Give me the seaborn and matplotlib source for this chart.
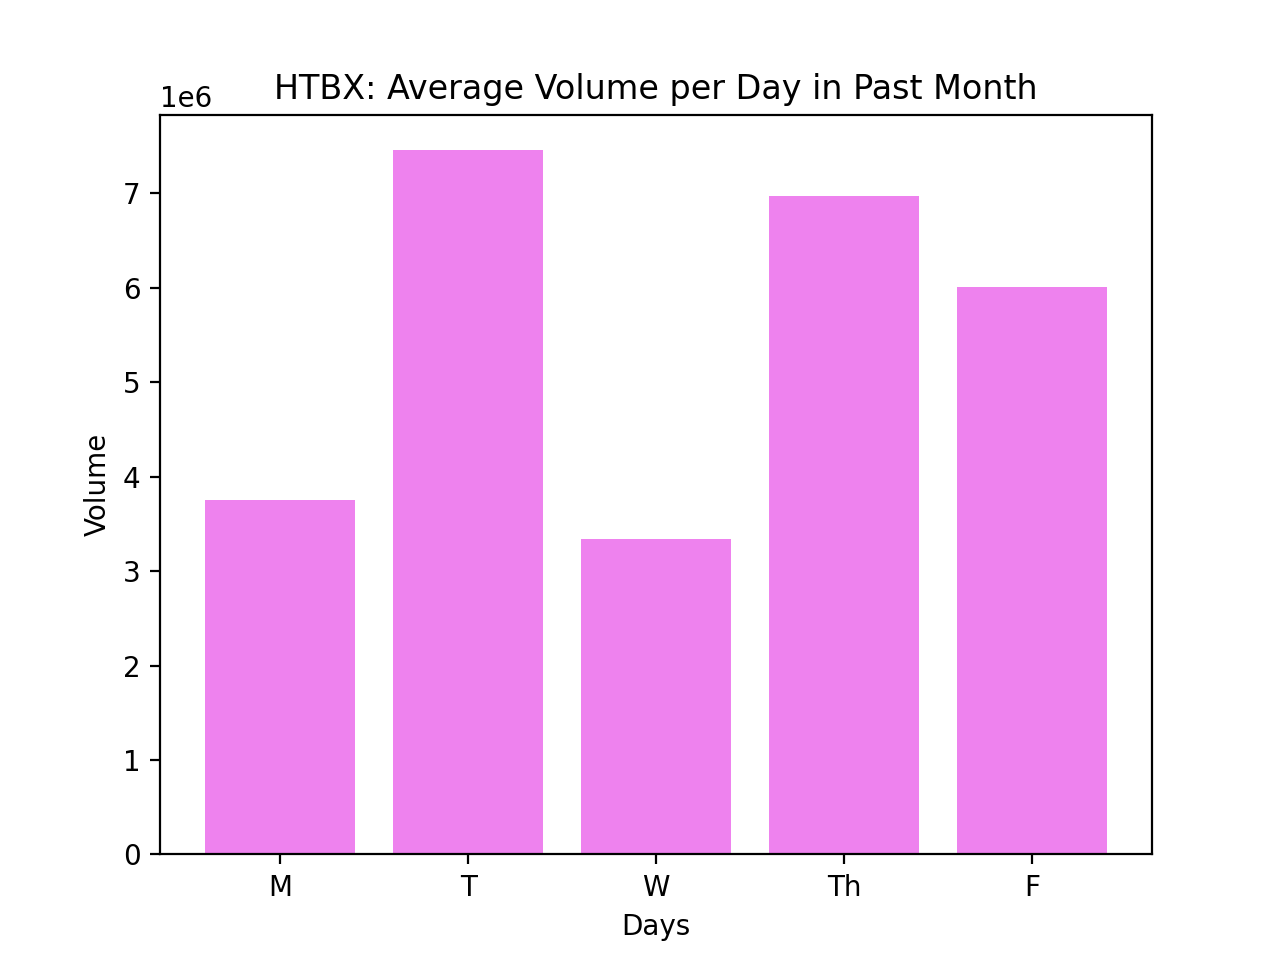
import matplotlib
matplotlib.use('Agg')
import matplotlib.pyplot as plt
import seaborn as sns
import pandas as pd

days = ['M', 'T', 'W', 'Th', 'F']
avg_volume = [3.75e6, 7.455e6, 3.336e6, 6.968e6, 6.004e6]

df = pd.DataFrame({'Days': days, 'Volume': avg_volume})

fig, ax = plt.subplots(figsize=(6.4, 4.8), dpi=200)
sns.barplot(data=df, x='Days', y='Volume', color='violet', saturation=1,
            width=0.8, ax=ax)
# matplotlib-style default x margins
pad = 0.05 * (len(days) - 1 + 0.8)
ax.set_xlim(-0.4 - pad, len(days) - 1 + 0.4 + pad)
ax.set_title('HTBX: Average Volume per Day in Past Month')
ax.set_xlabel('Days')
ax.set_ylabel('Volume')
plt.savefig('out.png')
